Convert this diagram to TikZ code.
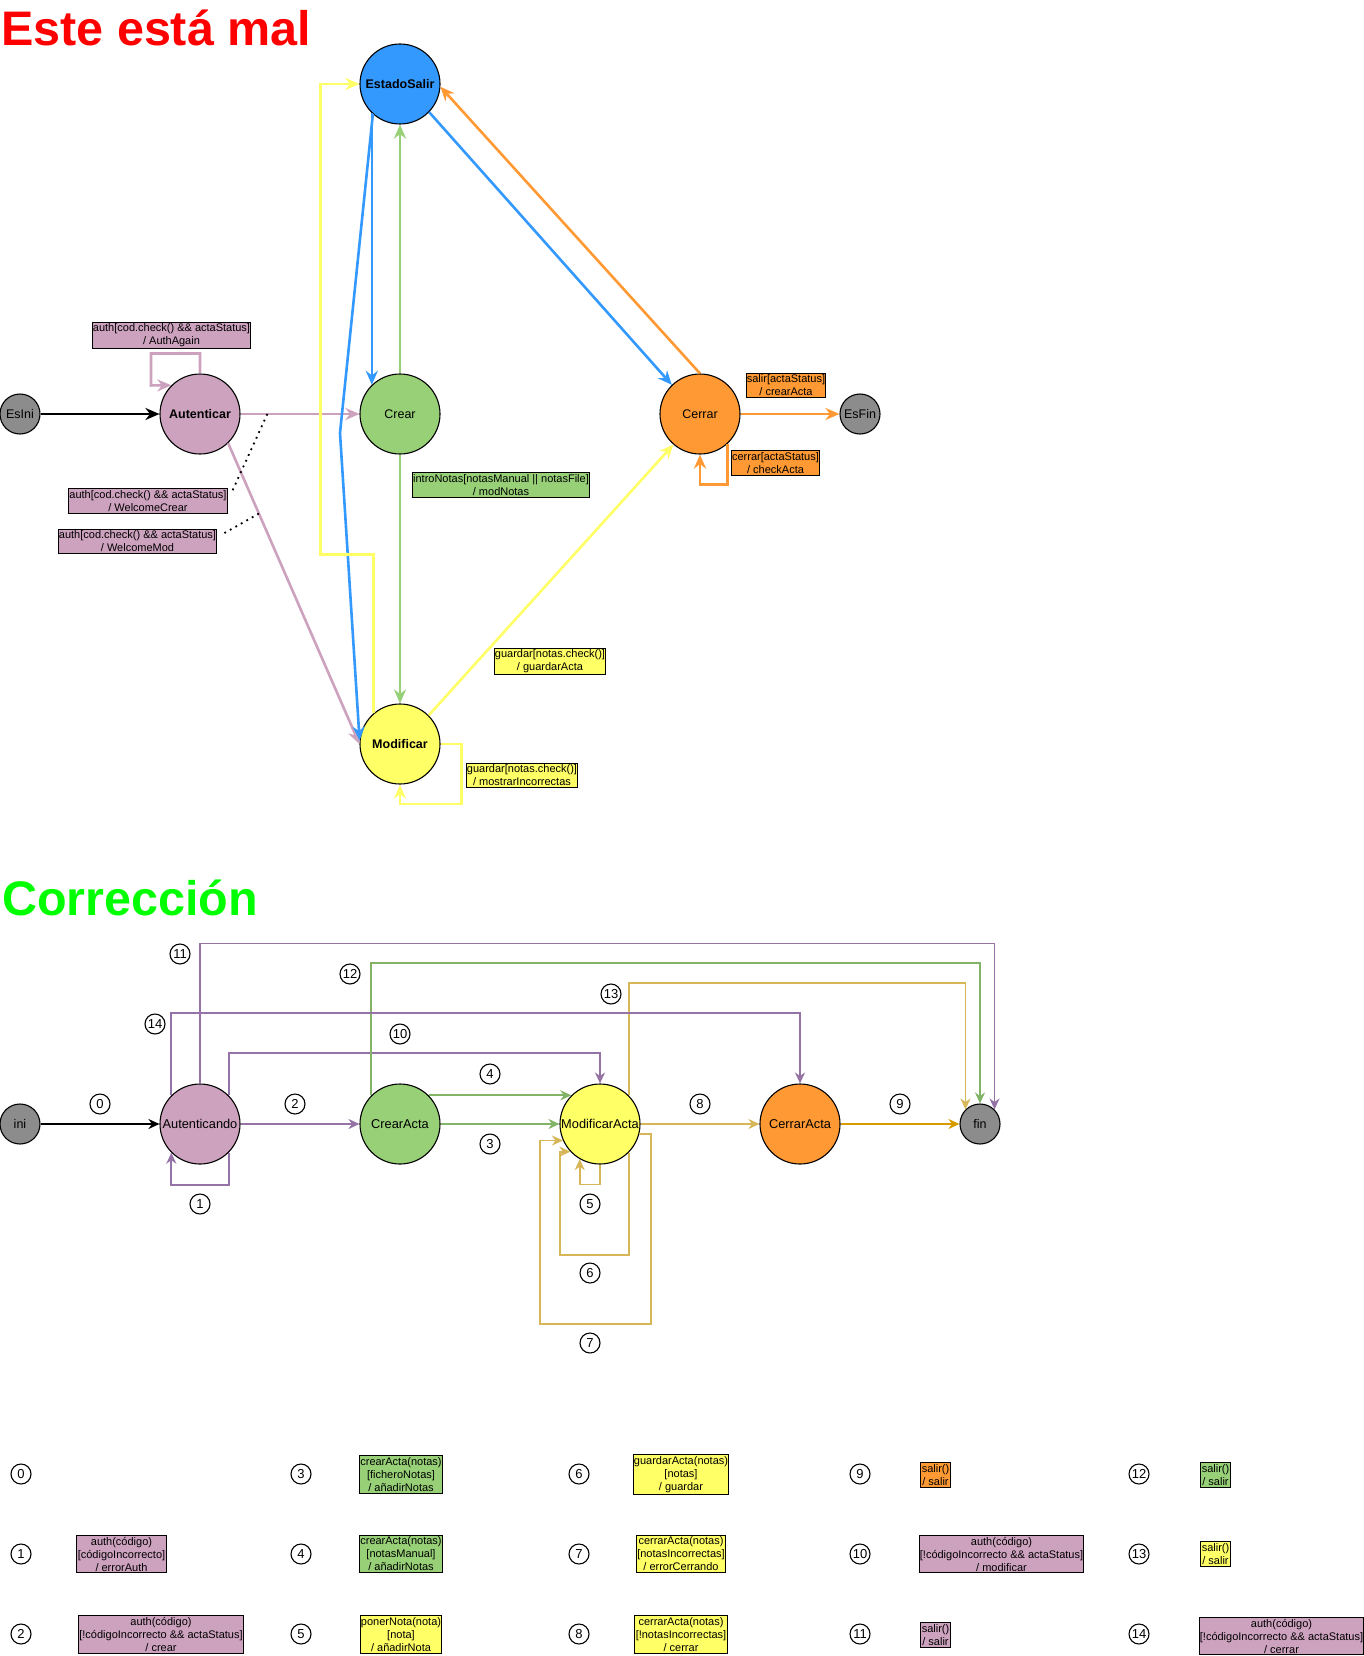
\documentclass[tikz,border=0pt]{standalone}
\usepackage{fontspec}
\setmainfont{Liberation Sans}
\usetikzlibrary{arrows.meta,calc,positioning}
\definecolor{cpink}{HTML}{CDA2BE}
\definecolor{cblue}{HTML}{3399FF}
\definecolor{cgreen}{HTML}{97D077}
\definecolor{corange}{HTML}{FF9933}
\definecolor{cyellow}{HTML}{FFFF66}
\definecolor{cgray}{HTML}{8C8C8C}
\definecolor{cpurple}{HTML}{9673A6}
\definecolor{cdgreen}{HTML}{82B366}
\definecolor{cgold}{HTML}{D6B656}
\definecolor{cdorange}{HTML}{D79B00}
\definecolor{cverde}{HTML}{00FF00}
\tikzset{
	every node/.style = { align = center },
	st/.style = { circle, draw, line width=1.1pt, inner sep=0pt, minimum size=80pt, font=\fontsize{12.5}{14}\selectfont },
	stb/.style = { st, font=\fontsize{12.5}{14}\selectfont\bfseries },
	sc/.style = { st, font=\fontsize{12.8}{15}\selectfont },
	term/.style = { st, minimum size=40pt, fill=cgray },
	lbl/.style = { draw, line width=1pt, inner xsep=0.8pt, inner ysep=1.8pt, font=\fontsize{11}{13}\selectfont },
	num/.style = { circle, draw, line width=1.1pt, inner sep=0pt, minimum size=20pt, font=\fontsize{13}{13}\selectfont },
	head/.style = { anchor=base west, inner sep=0pt, font=\fontsize{48.5}{56}\selectfont\bfseries },
	tr/.style = { line width=2.6pt, -{Stealth[length=14pt,width=12pt,inset=4.5pt]} },
	tc/.style = { line width=1.8pt, -{Stealth[length=11pt,width=10pt,inset=3.5pt]} },
	dotln/.style = { line width=1.8pt, dash pattern=on 1.8pt off 4.5pt },
}
\begin{document}
\begin{tikzpicture}[x=1pt,y=-1pt]
\useasboundingbox (0,0) rectangle (1364,1656);
\fill[white] (0,0) rectangle (1364,1656);

% version mala
\node (tmal) [head,text=red] at (1,46) {Este está mal};

\node (esini)  [term]             at (20,414)  {EsIni};
\node (aut)    [stb,fill=cpink]   at (200,414) {Autenticar};
\node (crear)  [st,fill=cgreen]   at (400,414) {Crear};
\node (salir)  [stb,fill=cblue]   at (400,84)  {EstadoSalir};
\node (cerrar) [st,fill=corange]  at (700,414) {Cerrar};
\node (esfin)  [term]             at (860,414) {EsFin};
\node (mod)    [stb,fill=cyellow] at (400,744) {Modificar};

\draw[tr] (esini) -- (aut);
\draw[tr,cpink] (aut) -- (crear) coordinate[pos=.225] (d1);
\draw[tr,cpink] (aut.-46) -- (mod.west) coordinate[pos=.234] (d2);
\draw[tr,cpink] (aut.north) -- ++(0,-20) -- ++(-49,0) -- ++(0,32) -- (aut.135);

\coordinate (kink) at (340,433);
\draw[tr,cblue] (salir.-134) -- (crear.134);
\draw[tr,cblue] (salir.-132) -- (kink) -- (mod.175);
\draw[tr,cblue] (salir.-44) -- (cerrar.134);
\draw[tr,corange] (cerrar.north) -- (salir.-4);
\draw[tr,cgreen] (crear.north) -- (salir.south);
\draw[tr,cgreen] (crear.south) -- (mod.north);
\draw[tr,cyellow] (mod.131) -- ++(0,-159) -| ($(salir.west)+(-39,0)$) -- (salir.west);
\draw[tr,cyellow] (mod.45) -- (cerrar.-131);
\draw[tr,cyellow] (mod.east) -- ++(21,0) -- ++(0,60) -| (mod.south);
\draw[tr,corange] (cerrar) -- (esfin);
\draw[tr,corange] (cerrar.-47) -- ++(0,41) -| (cerrar.south);

\node (lagain) [lbl,fill=cpink]   at (171.5,335.5) {auth[cod.check() \&\& actaStatus]\\/ AuthAgain};
\node (lcrear) [lbl,fill=cpink]   at (148,501)     {auth[cod.check() \&\& actaStatus]\\/ WelcomeCrear};
\node (lmodw)  [lbl,fill=cpink]   at (137.5,541.5) {auth[cod.check() \&\& actaStatus]\\/ WelcomeMod};
\node (lintro) [lbl,fill=cgreen]  at (501,485)     {introNotas[notasManual || notasFile]\\/ modNotas};
\node (lgact)  [lbl,fill=cyellow] at (550,661.5)   {guardar[notas.check()]\\/ guardarActa};
\node (lmost)  [lbl,fill=cyellow] at (522,775.5)   {guardar[notas.check()]\\/ mostrarIncorrectas};
\node (lsalir) [lbl,fill=corange] at (786,385.5)   {salir[actaStatus]\\/ crearActa};
\node (lcheck) [lbl,fill=corange] at (775.5,463)   {cerrar[actaStatus]\\/ checkActa};

\draw[dotln] (d1) -- ($(lcrear.north east)+(3,6)$);
\draw[dotln] (d2) -- ($(lmodw.north east)+(6,5)$);

% correccion
\node (tcor) [head,text=cverde] at (2,915) {Corrección};

\node (ini)  [term]           at (20,1124)  {ini};
\node (aut2) [sc,fill=cpink]  at (200,1124) {Autenticando};
\node (cra)  [sc,fill=cgreen] at (400,1124) {CrearActa};
\node (mda)  [sc,fill=cyellow] at (600,1124) {ModificarActa};
\node (cea)  [sc,fill=corange] at (800,1124) {CerrarActa};
\node (fin)  [term]           at (980,1124) {fin};

\draw[tc] (ini) -- (aut2);
\draw[tc,cpurple] (aut2.-45) -- ++(0,32) -| (aut2.-135);
\draw[tc,cpurple] (aut2) -- (cra);
\draw[tc,cdgreen] (cra) -- (mda);
\draw[tc,cdgreen] (cra.45) -- (mda.135);
\draw[tc,cgold] (mda.south) -- ++(0,20) -| (mda.-120);
\draw[tc,cgold] (mda.-45) -- ++(0,102) -| ($(mda.-137)+(-10,0)$) -- (mda.-137);
\draw[tc,cgold] (mda.-14) -- ++(12,0) -- ++(0,190) -| ($(mda.-156)+(-23,0)$) -- (mda.-156);
\draw[tc,cgold] (mda) -- (cea);
\draw[tc,cdorange] (cea) -- (fin);
\draw[tc,cpurple] (aut2.45) -- ++(0,-42) -| (mda.north);
\draw[tc,cpurple] (aut2.north) -- ++(0,-140) -| (fin.45);
\draw[tc,cdgreen] (cra.135) -- ++(0,-132) -| (fin.north);
\draw[tc,cgold] (mda.45) -- ++(0,-112) -| (fin.135);
\draw[tc,cpurple] (aut2.135) -- ++(0,-82) -| (cea.north);

\foreach \n/\x/\y in {0/100/1104, 1/200/1204, 2/295/1104, 3/490/1144, 4/490/1074,
  5/590/1204, 6/590/1273, 7/590/1343, 8/700/1104, 9/900/1104, 10/400/1034,
  11/180/954, 12/350/974, 13/611/994, 14/155/1024}
  \node (n\n) [num] at (\x,\y) {\n};

% leyenda
\foreach \n/\x/\y in {0/21/1474, 1/21/1554, 2/21/1634, 3/301/1474, 4/301/1554,
  5/301/1634, 6/579/1474, 7/579/1554, 8/579/1634, 9/860/1474, 10/860/1554,
  11/860/1634, 12/1139/1474, 13/1139/1554, 14/1139/1634}
  \node (k\n) [num] at (\x,\y) {\n};

\node (b1)  [lbl,fill=cpink]   at (121.5,1554)  {auth(código)\\{}[códigoIncorrecto]\\/ errorAuth};
\node (b2)  [lbl,fill=cpink]   at (161,1634.5)  {auth(código)\\{}[!códigoIncorrecto \&\& actaStatus]\\/ crear};
\node (b3)  [lbl,fill=cgreen]  at (401,1474.5)  {crearActa(notas)\\{}[ficheroNotas]\\/ añadirNotas};
\node (b4)  [lbl,fill=cgreen]  at (401,1554)    {crearActa(notas)\\{}[notasManual]\\/ añadirNotas};
\node (b5)  [lbl,fill=cyellow] at (401,1634.5)  {ponerNota(nota)\\{}[nota]\\/ añadirNota};
\node (b6)  [lbl,fill=cyellow] at (681,1474.5)  {guardarActa(notas)\\{}[notas]\\/ guardar};
\node (b7)  [lbl,fill=cyellow] at (681,1554)    {cerrarActa(notas)\\{}[notasIncorrectas]\\/ errorCerrando};
\node (b8)  [lbl,fill=cyellow] at (681,1634.5)  {cerrarActa(notas)\\{}[!notasIncorrectas]\\/ cerrar};
\node (b9)  [lbl,fill=corange] at (935.5,1475)  {salir()\\/ salir};
\node (b10) [lbl,fill=cpink]   at (1001.5,1554) {auth(código)\\{}[!códigoIncorrecto \&\& actaStatus]\\/ modificar};
\node (b11) [lbl,fill=cpink]   at (935.5,1635)  {salir()\\/ salir};
\node (b12) [lbl,fill=cgreen]  at (1215.5,1475) {salir()\\/ salir};
\node (b13) [lbl,fill=cyellow] at (1215.5,1554) {salir()\\/ salir};
\node (b14) [lbl,fill=cpink]   at (1281.5,1636) {auth(código)\\{}[!códigoIncorrecto \&\& actaStatus]\\/ cerrar};

\end{tikzpicture}
\end{document}
